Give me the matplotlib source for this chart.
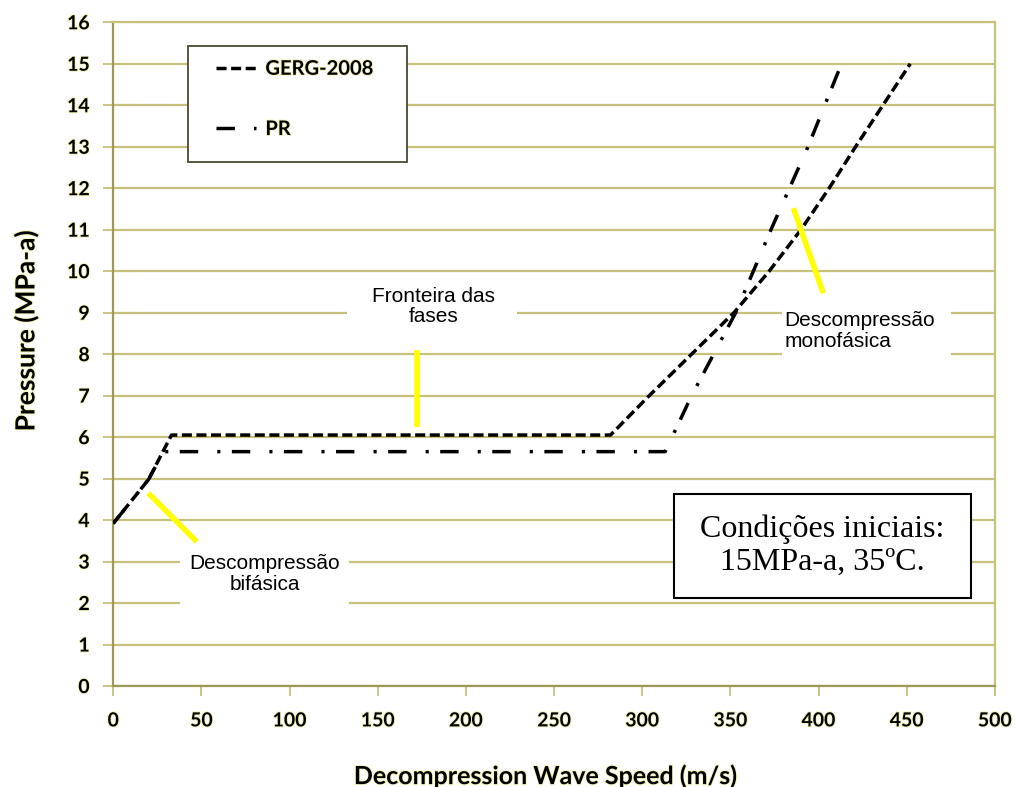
import numpy as np
import matplotlib.pyplot as plt
import matplotlib.patheffects as pe
from matplotlib.patches import Rectangle

# curvas
gerg_speed = [0, 10, 20, 33, 282, 304, 328, 352, 372, 390, 406, 421, 436.5, 452]
gerg_pressure = [3.92, 4.45, 4.98, 6.05, 6.05, 7, 8, 9, 10, 11, 12, 13, 14, 15]

pr_speed = [0, 10, 20, 28.5, 313, 328, 353, 373, 394, 413]
pr_pressure = [3.92, 4.45, 4.98, 5.65, 5.65, 7, 9, 11, 13, 15]

x_ticks = np.arange(0, 501, 50)
y_ticks = np.arange(0, 17, 1)

grid_cor = '#c6c27c'
eixo_cor = '#9c9858'
glow = [pe.withStroke(linewidth=1.3, foreground='#f2f2b0')]

fig = plt.figure(figsize=(10.18, 7.87), dpi=100)
ax = fig.add_axes([0.1113, 0.1283, 0.8660, 0.8434])

ax.plot(gerg_speed, gerg_pressure, color='k', lw=2.5, dashes=(2.9, 1.3),
        label='GERG-2008', zorder=3)
ax.plot(pr_speed, pr_pressure, color='k', lw=2.5, dashes=(5.3, 5.5, 0.9, 3.3),
        label='PR', zorder=3)

ax.set_xlim(0, 500)
ax.set_ylim(0, 16)
ax.set_xticks(x_ticks)
ax.set_yticks(y_ticks)
ax.set_axisbelow(True)
ax.grid(True, axis='y', color=grid_cor, lw=1.6)
ax.tick_params(axis='both', direction='out', length=7, width=1.3, color=grid_cor)
ax.tick_params(axis='x', pad=12)
ax.tick_params(axis='y', pad=10)
for lab in ax.get_xticklabels() + ax.get_yticklabels():
    lab.set_fontfamily('Lato')
    lab.set_fontweight('bold')
    lab.set_fontsize(14)
    lab.set_path_effects(glow)
for s in ['left', 'bottom']:
    ax.spines[s].set_color(eixo_cor)
    ax.spines[s].set_linewidth(1.6)
for s in ['right', 'top']:
    ax.spines[s].set_color(grid_cor)
    ax.spines[s].set_linewidth(1.6)

ax.set_xlabel('Decompression Wave Speed (m/s)', fontfamily='Lato', fontweight='bold',
              fontsize=18, path_effects=glow)
ax.xaxis.set_label_coords(0.49, -0.136)
ax.xaxis.label.set_va('center')
ax.set_ylabel('Pressure (MPa-a)', fontfamily='Lato', fontweight='bold',
              fontsize=19, path_effects=glow)
ax.yaxis.set_label_coords(-0.099, 0.535)
ax.yaxis.label.set_va('center')

# caixas brancas das anotacoes
caixas = [(132.6, 8.3, 96.4, 1.5), (37.8, 1.3, 96.0, 2.3), (379.3, 7.4, 95.9, 2.2)]
for x0, y0, w, h in caixas:
    ax.add_patch(Rectangle((x0, y0), w, h, facecolor='white', edgecolor='none', zorder=1))

# linhas amarelas
setas = [((172, 172), (8.1, 6.24)), ((19.9, 47.3), (4.65, 3.48)), ((385.7, 402.7), (11.52, 9.47))]
for xs, ys in setas:
    ax.plot(xs, ys, color='#ffff00', lw=4, solid_capstyle='butt', zorder=4)

ax.text(181.5, 9.15, 'Fronteira das\nfases', ha='center', va='center', fontsize=15,
        fontfamily='Liberation Sans', linespacing=1.1, zorder=5)
ax.text(86, 2.7, 'Descompressão\nbifásica', ha='center', va='center', fontsize=15,
        fontfamily='Liberation Sans', linespacing=1.1, zorder=5)
ax.text(380.5, 8.56, 'Descompressão\nmonofásica', ha='left', va='center', fontsize=15,
        fontfamily='Liberation Sans', linespacing=1.1, zorder=5)

ax.add_patch(Rectangle((318, 2.12), 168.6, 2.51, facecolor='white', edgecolor='k',
                       lw=1.5, zorder=4))
ax.text(402, 3.38, 'Condições iniciais:\n15MPa-a, 35ºC.', ha='center', va='center',
        fontsize=23, fontfamily='Liberation Serif', linespacing=1.15, zorder=5)

# moldura da legenda desenhada a parte
ax.add_patch(Rectangle((0.0847, 0.7895), 0.2483, 0.1745, transform=ax.transAxes,
                       facecolor='white', edgecolor='#4a4a30', lw=1.3, zorder=6))
leg = ax.legend(loc='upper left', bbox_to_anchor=(0.1165, 0.945), borderaxespad=0,
                frameon=False, handlelength=2.0, handletextpad=0.45, labelspacing=2.0,
                borderpad=0, prop={'family': 'Lato', 'weight': 'bold', 'size': 14.5})
leg.set_zorder(7)
for t in leg.get_texts():
    t.set_path_effects(glow)

plt.savefig('out.png', dpi=100)
plt.close()
